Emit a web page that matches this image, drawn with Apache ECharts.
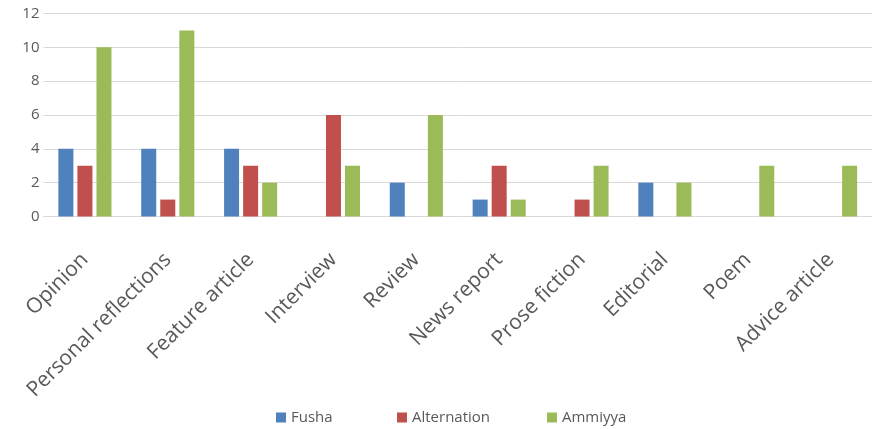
<!DOCTYPE html>
<html><head><meta charset="utf-8">
<script src="https://cdn.jsdelivr.net/npm/echarts@6/dist/echarts.min.js"></script>
<style>html,body{margin:0;padding:0;background:#fff}#c{width:872px;height:429px}</style>
</head><body><div id="c"></div>
<script>
const categories = ["Opinion","Personal reflections","Feature article","Interview","Review","News report","Prose fiction","Editorial","Poem","Advice article"];
const seriesNames = ["Fusha","Alternation","Ammiyya"];
const fusha = [4,4,4,0,2,1,0,2,0,0];
const alternation = [3,1,3,6,0,3,1,0,0,0];
const ammiyya = [10,11,2,3,6,1,3,2,3,3];
const yTicks = [0,2,4,6,8,10,12];

const font = "'Open Sans', sans-serif";
const txt = '#595959';
const legendLefts = [271, 392, 542];
const chart = echarts.init(document.getElementById('c'));
chart.setOption({
  animation:false,
  textStyle:{fontFamily:font},
  grid:{left:43.5, top:13.5, width:840, bottom:212.5, containLabel:false},
  legend: seriesNames.map((n,i)=>({
    left:legendLefts[i], top:405, itemWidth:10, itemHeight:10, icon:'rect',
    textStyle:{color:txt, fontSize:15, fontFamily:font},
    data:[n]
  })),
  xAxis:{
    type:'category', data:categories,
    axisLine:{show:true, lineStyle:{color:'#d9d9d9'}},
    axisTick:{show:false},
    axisLabel:{rotate:45, color:txt, fontSize:21, margin:40, interval:0, fontFamily:font}
  },
  yAxis:{
    type:'value', min:yTicks[0], max:yTicks[yTicks.length-1], interval:2,
    axisLine:{show:false}, axisTick:{show:false},
    axisLabel:{color:txt, fontSize:15, margin:4, fontFamily:font},
    splitLine:{lineStyle:{color:'#d9d9d9'}}
  },
  series:[
    {name:seriesNames[0], type:'bar', data:fusha, barWidth:15, barGap:'27%', itemStyle:{color:'#4F81BD'}},
    {name:seriesNames[1], type:'bar', data:alternation, barWidth:15, barGap:'27%', itemStyle:{color:'#C0504D'}},
    {name:seriesNames[2], type:'bar', data:ammiyya, barWidth:15, barGap:'27%', itemStyle:{color:'#9BBB59'}}
  ]
});
</script></body></html>
